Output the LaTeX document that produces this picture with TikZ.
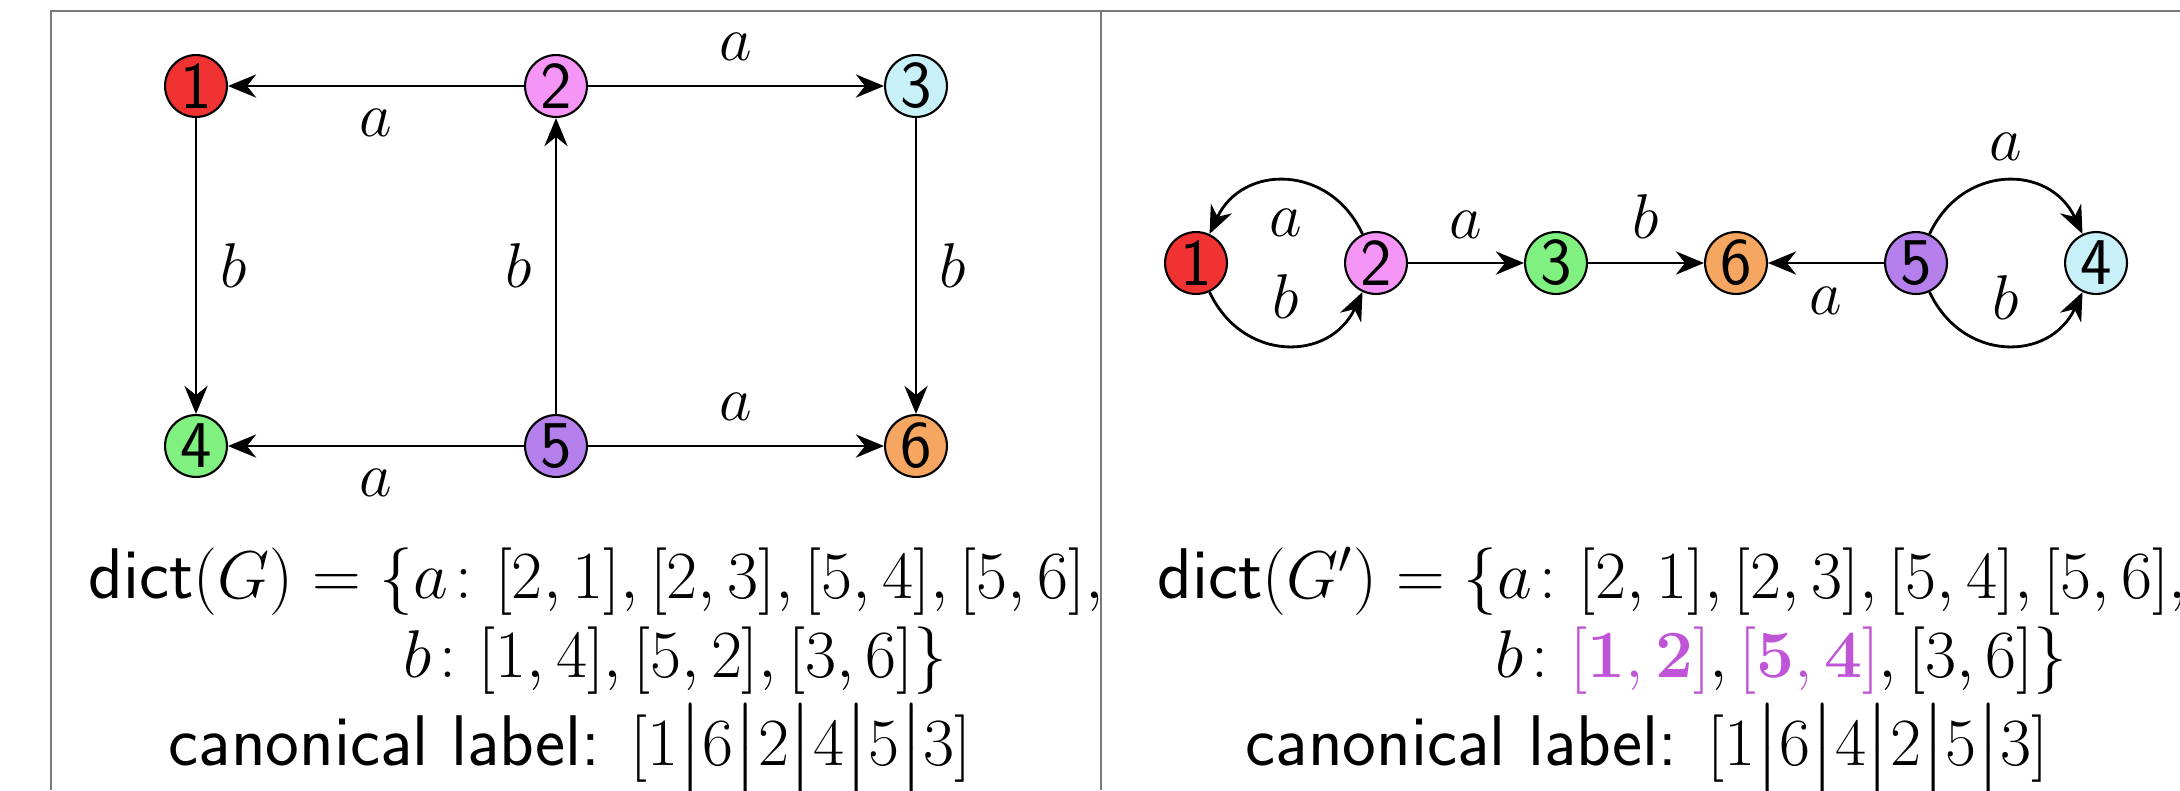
\documentclass[tikz,border=0pt]{standalone}
\usepackage{fix-cm}
\usepackage{amsmath}
\usetikzlibrary{arrows.meta}
\definecolor{cred}{HTML}{F03232}
\definecolor{cpink}{HTML}{F595F5}
\definecolor{ccyan}{HTML}{C8F0F8}
\definecolor{cgreen}{HTML}{80F080}
\definecolor{cpurple}{HTML}{B580EC}
\definecolor{corange}{HTML}{F5A660}
\definecolor{chl}{HTML}{BF55D6}
\definecolor{cframe}{HTML}{7A7A7A}
\newcommand\mth[1]{{\fontsize{19.2}{24}\selectfont$#1$}}
\tikzset{
  vert/.style={circle, draw=black, line width=0.6pt, minimum size=17.6pt, inner sep=0pt,
    font=\sffamily\fontsize{19}{19}\selectfont},
  edge/.style={line width=0.8pt, -{Stealth[length=8pt,width=6.6pt,inset=2.6pt]}},
  lbl/.style={inner sep=0pt, font=\fontsize{18}{20}\selectfont},
  txt/.style={inner sep=0pt, anchor=base west, font=\sffamily\fontsize{20.4}{24}\selectfont},
  framel/.style={draw=cframe, line width=0.6pt}
}
\begin{document}
\begin{tikzpicture}[x=0.01cm, y=-0.01cm]
\useasboundingbox (0,0) rectangle (2180,790);
% frame
\draw[framel] (2180,11) -- (51,11) -- (51,790);
\draw[framel] (1101,11) -- (1101,790);
% ---- left graph
\node[vert, fill=cred]    (n1) at (196,86)  {1};
\node[vert, fill=cpink]   (n2) at (556,86)  {2};
\node[vert, fill=ccyan]   (n3) at (916,86)  {3};
\node[vert, fill=cgreen]  (n4) at (196,446) {4};
\node[vert, fill=cpurple] (n5) at (556,446) {5};
\node[vert, fill=corange] (n6) at (916,446) {6};
\draw[edge] (n2) -- node[lbl, midway, yshift=-0.37cm] {$a$} (n1);
\draw[edge] (n2) -- node[lbl, midway, yshift=0.39cm] {$a$} (n3);
\draw[edge] (n5) -- node[lbl, midway, yshift=-0.37cm] {$a$} (n4);
\draw[edge] (n5) -- node[lbl, midway, yshift=0.39cm] {$a$} (n6);
\draw[edge] (n1) -- node[lbl, midway, xshift=0.38cm] {$b$} (n4);
\draw[edge] (n5) -- node[lbl, midway, xshift=-0.37cm] {$b$} (n2);
\draw[edge] (n3) -- node[lbl, midway, xshift=0.37cm] {$b$} (n6);
% ---- right graph
\node[vert, fill=cred]    (m1) at (1196,263) {1};
\node[vert, fill=cpink]   (m2) at (1376,263) {2};
\node[vert, fill=cgreen]  (m3) at (1556,263) {3};
\node[vert, fill=corange] (m6) at (1736,263) {6};
\node[vert, fill=cpurple] (m5) at (1916,263) {5};
\node[vert, fill=ccyan]   (m4) at (2096,263) {4};
\draw[edge] (m2) to[out=115, in=65, looseness=1.3] node[lbl, midway, yshift=-0.42cm] {$a$} (m1);
\draw[edge] (m1) to[out=-65, in=-115, looseness=1.3] node[lbl, midway, yshift=0.48cm] {$b$} (m2);
\draw[edge] (m2) -- node[lbl, midway, yshift=0.38cm] {$a$} (m3);
\draw[edge] (m3) -- node[lbl, midway, yshift=0.46cm] {$b$} (m6);
\draw[edge] (m5) -- node[lbl, midway, yshift=-0.38cm] {$a$} (m6);
\draw[edge] (m5) to[out=65, in=115, looseness=1.3] node[lbl, midway, yshift=0.34cm] {$a$} (m4);
\draw[edge] (m5) to[out=-65, in=-115, looseness=1.3] node[lbl, midway, yshift=0.475cm] {$b$} (m4);
% ---- texts
\node[txt] (t1) at (88,598) {dict\mth{(G) = \{a\colon [2,1],[2,3],[5,4],[5,6],}};
\node[txt] (t2) at (403,677) {\mth{b\colon [1,4],[5,2],[3,6]\}}};
\node[txt] (t3) at (168,765) {canonical label: \mth{[1\big|6\big|2\big|4\big|5\big|3]}};
\node[txt] (u1) at (1157,598) {dict\mth{(G') = \{a\colon [2,1],[2,3],[5,4],[5,6],}};
\node[txt] (u2) at (1495,677) {\mth{b\colon {\color{chl}[\mathbf{1,2}]},{\color{chl}[\mathbf{5,4}]},[3,6]\}}};
\node[txt] (u3) at (1245,765) {canonical label: \mth{[1\big|6\big|4\big|2\big|5\big|3]}};
\end{tikzpicture}
\end{document}
